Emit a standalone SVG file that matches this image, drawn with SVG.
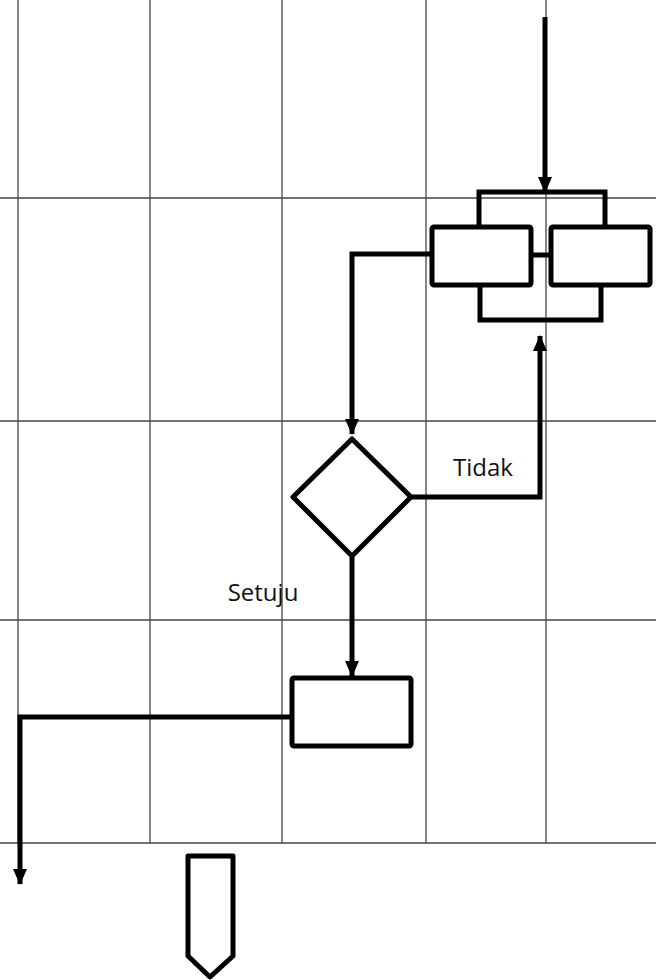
<svg xmlns="http://www.w3.org/2000/svg" width="656" height="980" viewBox="0 0 656 980">
<style>
.grid{stroke:#444;stroke-width:1.3;fill:none}
.shape{fill:#fff;stroke:#000;stroke-width:5;stroke-linejoin:round}
.wire{fill:none;stroke:#000;stroke-width:5;stroke-linejoin:miter}
.lbl{font-family:"Open Sans","Liberation Sans",sans-serif;font-size:24px;fill:#111}
</style>
<defs>
<marker id="ah" markerWidth="16" markerHeight="16" viewBox="0 0 16 16" refX="15" refY="8" orient="auto" markerUnits="userSpaceOnUse">
<path d="M0,1 L16,8 L0,15 Z" fill="#000"/>
</marker>
</defs>
<rect width="656" height="980" fill="#fff"/>
<g id="grid">
<line class="grid" x1="18" y1="0" x2="18" y2="843"/>
<line class="grid" x1="150" y1="0" x2="150" y2="843"/>
<line class="grid" x1="282" y1="0" x2="282" y2="843"/>
<line class="grid" x1="426" y1="0" x2="426" y2="843"/>
<line class="grid" x1="546" y1="0" x2="546" y2="843"/>
<line class="grid" x1="0" y1="198" x2="656" y2="198"/>
<line class="grid" x1="0" y1="421" x2="656" y2="421"/>
<line class="grid" x1="0" y1="620" x2="656" y2="620"/>
<line class="grid" x1="0" y1="843" x2="656" y2="843"/>
</g>
<g id="connectors">
<polyline class="wire" points="479,228 479,192 605,192 605,228"/>
<polyline class="wire" points="480,285 480,320 601,320 601,285"/>
<line class="wire" x1="531" y1="255" x2="551" y2="255"/>
<line class="wire" x1="545" y1="17" x2="545" y2="192" marker-end="url(#ah)"/>
<polyline class="wire" points="431,254 352,254 352,434" marker-end="url(#ah)"/>
<polyline class="wire" points="411,497 540,497 540,336" marker-end="url(#ah)"/>
<line class="wire" x1="352" y1="557" x2="352" y2="676" marker-end="url(#ah)"/>
<polyline class="wire" points="292,717 20,717 20,884" marker-end="url(#ah)"/>
</g>
<g id="box-left"><rect class="shape" x="432" y="227" width="99" height="58" rx="2"/></g>
<g id="box-right"><rect class="shape" x="551" y="227" width="99" height="58" rx="2"/></g>
<g id="decision"><polygon class="shape" points="352,439 411,497 352,556 293,497"/></g>
<g id="label-tidak"><text class="lbl" x="483" y="476" text-anchor="middle">Tidak</text></g>
<g id="label-setuju"><text class="lbl" x="263" y="601" text-anchor="middle">Setuju</text></g>
<g id="box-process"><rect class="shape" x="292" y="678" width="119" height="68" rx="2"/></g>
<g id="offpage"><polygon class="shape" points="188,856 233,856 233,956 210,977 188,956"/></g>
</svg>
